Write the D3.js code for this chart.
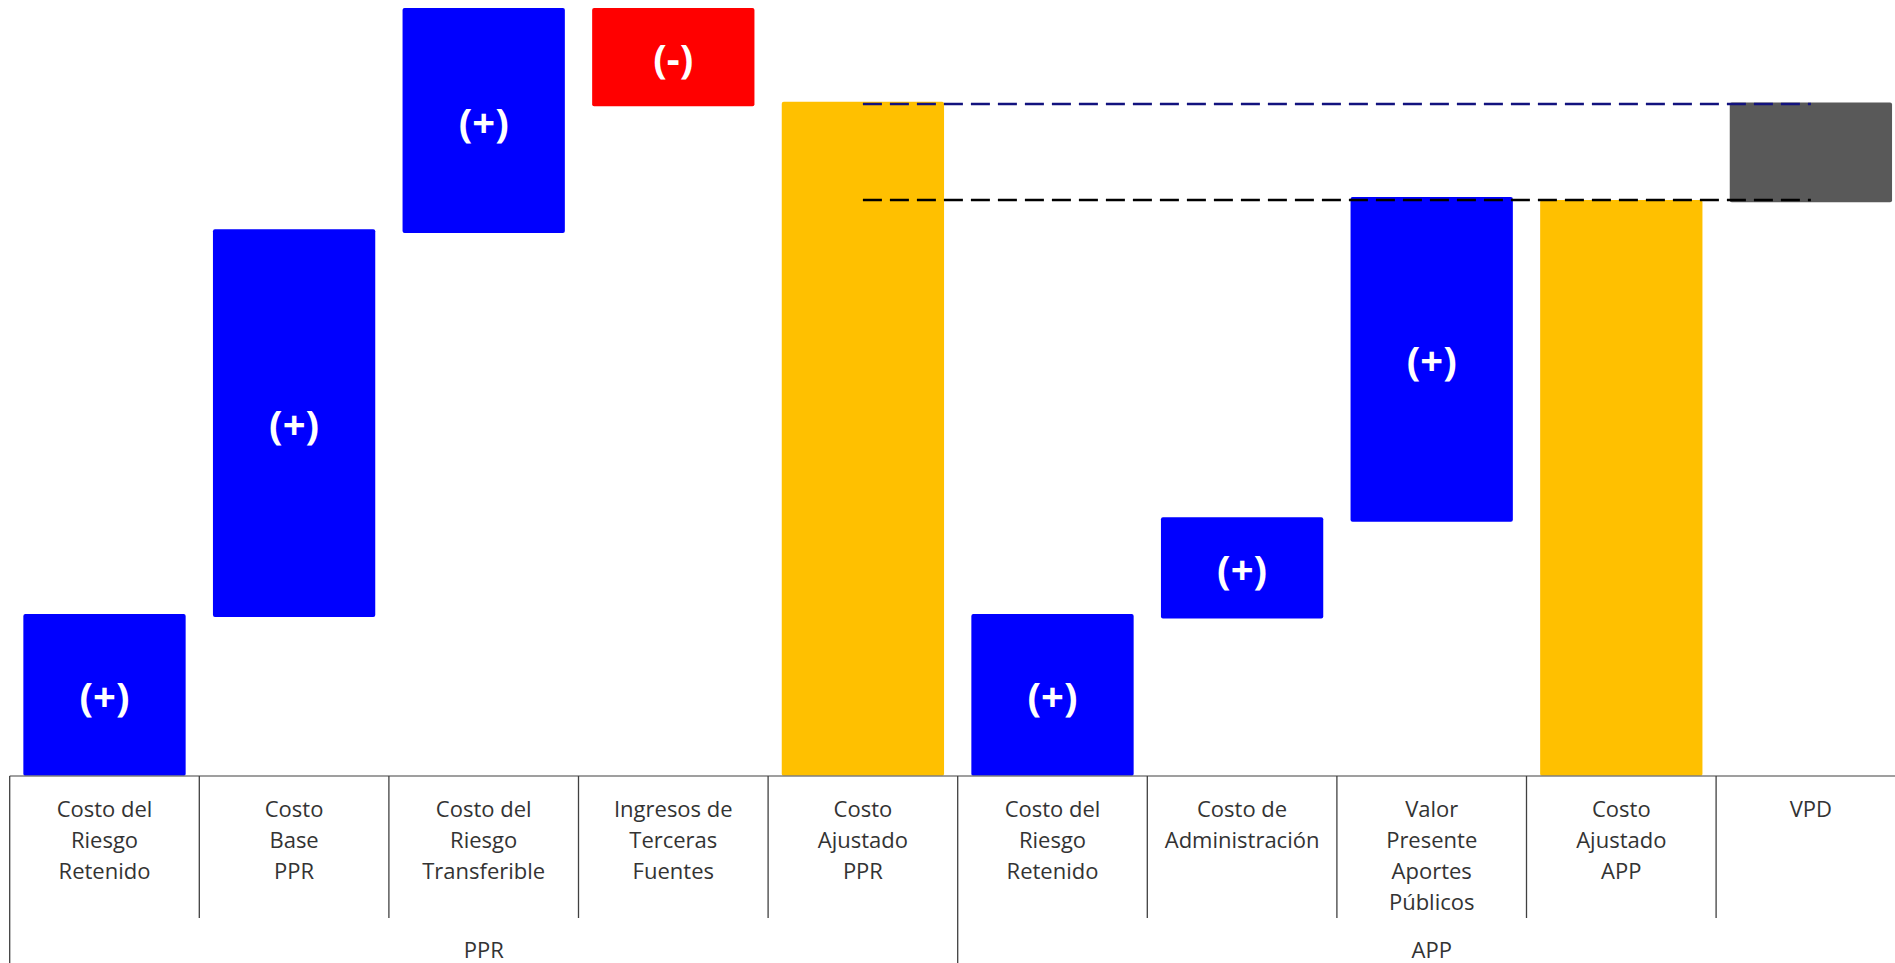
<!DOCTYPE html>
<html>
<head>
<meta charset="utf-8">
<script src="https://cdn.jsdelivr.net/npm/d3@7"></script>
<style>
  html, body { margin: 0; padding: 0; background: #fff; }
  svg { display: block; }
</style>
</head>
<body>
<svg></svg>
<script>
const W = 1895;
const H = 963;

// category labels, already wrapped as in the original
const categories = [
  'Costo del\nRiesgo\nRetenido',
  'Costo\nBase\nPPR',
  'Costo del\nRiesgo\nTransferible',
  'Ingresos de\nTerceras\nFuentes',
  'Costo\nAjustado\nPPR',
  'Costo del\nRiesgo\nRetenido',
  'Costo de\nAdministración',
  'Valor\nPresente\nAportes\nPúblicos',
  'Costo\nAjustado\nAPP',
  'VPD'
];

// floating bars: start and end of each bar (chart units, 0 = axis)
const barStart = [0, 20.7, 70.7, 87.2, 0, 0, 20.5, 33.1, 0, 74.7];
const barEnd = [21.1, 71.2, 100, 100, 87.8, 21.1, 33.7, 75.4, 75.0, 87.7];
const barKind = ['up', 'up', 'up', 'down', 'total', 'up', 'up', 'up', 'total', 'diff'];
const barSign = ['(+)', '(+)', '(+)', '(-)', '', '(+)', '(+)', '(+)', '', ''];

// group row under the categories
const groupNames = ['PPR', 'APP'];
const groupSizes = [5, 5];

// dashed reference levels, from Costo Ajustado PPR to VPD
const refLevels = [87.5, 75.0];
const refColors = ['#12127e', '#000000'];
const refFrom = 4;
const refTo = 9;

const colors = { up: '#0000ff', down: '#ff0000', total: '#ffc000', diff: '#595959' };

const x0 = 9.7;
const step = 189.6;
const baseY = 776;
const topY = 8;

const svg = d3.select('svg')
  .attr('width', W)
  .attr('height', H);

const x = d3.scaleBand()
  .domain(d3.range(categories.length))
  .range([x0, x0 + step * categories.length])
  .paddingInner(0.144)
  .paddingOuter(0.072);

const y = d3.scaleLinear()
  .domain([0, 100])
  .range([baseY, topY]);

svg.append('g').selectAll('rect')
  .data(categories.map((c, i) => i))
  .enter().append('rect')
    .attr('x', i => x(i))
    .attr('width', x.bandwidth())
    .attr('y', i => y(barEnd[i]))
    .attr('height', i => y(barStart[i]) - y(barEnd[i]))
    .attr('rx', 2)
    .style('fill', i => colors[barKind[i]]);

// sign labels in the middle of the bars
svg.append('g').selectAll('text')
  .data(categories.map((c, i) => i).filter(i => barSign[i]))
  .enter().append('text')
    .attr('x', i => x(i) + x.bandwidth() / 2)
    .attr('y', i => (y(barStart[i]) + y(barEnd[i])) / 2)
    .attr('dy', '0.4em')
    .attr('text-anchor', 'middle')
    .style('font-family', '"Open Sans", sans-serif')
    .style('font-weight', 'bold')
    .style('font-size', '40px')
    .style('fill', '#fff')
    .text(i => barSign[i]);

// dashed lines
svg.append('g').selectAll('line')
  .data(refLevels)
  .enter().append('line')
    .attr('x1', x(refFrom) + x.bandwidth() / 2)
    .attr('x2', x(refTo) + x.bandwidth() / 2)
    .attr('y1', d => y(d))
    .attr('y2', d => y(d))
    .style('stroke', (d, i) => refColors[i])
    .style('stroke-width', 2.5)
    .style('stroke-dasharray', '19 8');

// category axis as a table
const axis = svg.append('g');
const cellTop = baseY;
const cellBottom = 918;

axis.append('line')
  .attr('x1', x0).attr('x2', W)
  .attr('y1', baseY).attr('y2', baseY)
  .style('stroke', '#7f7f7f')
  .style('stroke-width', 1.5);

const groupStarts = [0];
groupSizes.forEach((s, i) => groupStarts.push(groupStarts[i] + s));

// band boundaries
d3.range(categories.length + 1).forEach((k) => {
  const xx = x0 + k * step;
  const isGroupEdge = groupStarts.includes(k);
  axis.append('line')
    .attr('x1', xx).attr('x2', xx)
    .attr('y1', cellTop)
    .attr('y2', isGroupEdge ? H : cellBottom)
    .style('stroke', '#404040')
    .style('stroke-width', 1.3);
});

const labelFont = '"Open Sans", sans-serif';

axis.selectAll('text.cat')
  .data(categories)
  .enter().append('text')
    .attr('class', 'cat')
    .attr('text-anchor', 'middle')
    .style('font-family', labelFont)
    .style('font-size', '22px')
    .style('fill', '#333')
    .each(function (d, i) {
      const t = d3.select(this);
      d.split('\n').forEach((line, j) => {
        t.append('tspan')
          .attr('x', x(i) + x.bandwidth() / 2)
          .attr('y', 817 + j * 31)
          .text(line);
      });
    });

axis.selectAll('text.grp')
  .data(groupNames)
  .enter().append('text')
    .attr('class', 'grp')
    .attr('text-anchor', 'middle')
    .attr('x', (d, i) => x0 + (groupStarts[i] + groupSizes[i] / 2) * step)
    .attr('y', 958)
    .style('font-family', labelFont)
    .style('font-size', '22px')
    .style('fill', '#333')
    .text(d => d);
</script>
</body>
</html>
